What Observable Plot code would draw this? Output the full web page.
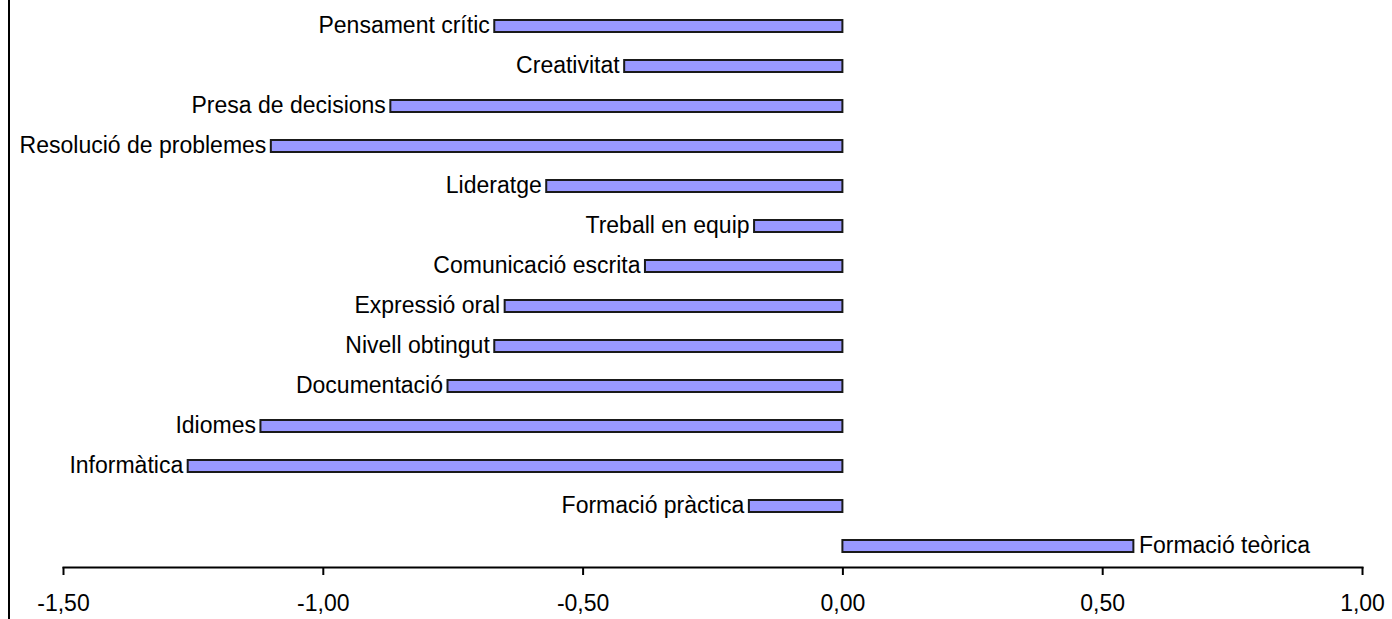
<!DOCTYPE html>
<html>
<head>
<meta charset="utf-8">
<script src="https://cdn.jsdelivr.net/npm/d3@7"></script>
<script src="https://cdn.jsdelivr.net/npm/@observablehq/plot@0.6"></script>
<style>
  html, body { margin: 0; padding: 0; background: #fff; }
  #wrap { position: relative; width: 1392px; height: 619px; }
  #edge { position: absolute; left: 8px; top: 0; width: 2px; height: 619px; background: #000; }
</style>
</head>
<body>
<div id="wrap"><div id="edge"></div></div>
<script>
const categories = [
  "Pensament crític",
  "Creativitat",
  "Presa de decisions",
  "Resolució de problemes",
  "Lideratge",
  "Treball en equip",
  "Comunicació escrita",
  "Expressió oral",
  "Nivell obtingut",
  "Documentació",
  "Idiomes",
  "Informàtica",
  "Formació pràctica",
  "Formació teòrica"
];
const values = [-0.67, -0.42, -0.87, -1.10, -0.57, -0.17, -0.38, -0.65, -0.67, -0.76, -1.12, -1.26, -0.18, 0.56];
const tickValues = [-1.5, -1.0, -0.5, 0, 0.5, 1.0];

const data = categories.map((c, i) => ({category: c, value: values[i]}));
const fmt = d => d3.format(".2f")(d).replace(".", ",").replace("\u2212", "-");

const chart = Plot.plot({
  width: 1392,
  height: 619,
  marginLeft: 63,
  marginRight: 30,
  marginTop: 5,
  marginBottom: 52,
  style: {fontFamily: "'Liberation Sans', Arial, sans-serif", fontSize: "23px", background: "transparent", color: "#000"},
  x: {domain: [-1.5, 1.0], ticks: tickValues, tickFormat: fmt},
  y: {domain: categories, paddingInner: 0.7, paddingOuter: 0.375, axis: null},
  marks: [
    Plot.barX(data, {x1: 0, x2: "value", y: "category", fill: "#9999ff", stroke: "#1a1a1a", strokeWidth: 2}),
    Plot.text(data.filter(d => d.value < 0), {x: "value", y: "category", text: "category", textAnchor: "end", dx: -5, dy: -1, fill: "#000", fontSize: 23}),
    Plot.text(data.filter(d => d.value >= 0), {x: "value", y: "category", text: "category", textAnchor: "start", dx: 5, dy: -1, fill: "#000", fontSize: 23}),
    Plot.axisX({ticks: tickValues, tickFormat: fmt, tickSize: 8, tickPadding: 19, fontSize: 23, stroke: "#000", strokeWidth: 2, label: null}),
    Plot.frame({anchor: "bottom", stroke: "#000", strokeWidth: 2})
  ]
});
document.getElementById("wrap").appendChild(chart);
chart.style.position = "absolute";
chart.style.left = "0";
chart.style.top = "0";
</script>
</body>
</html>
